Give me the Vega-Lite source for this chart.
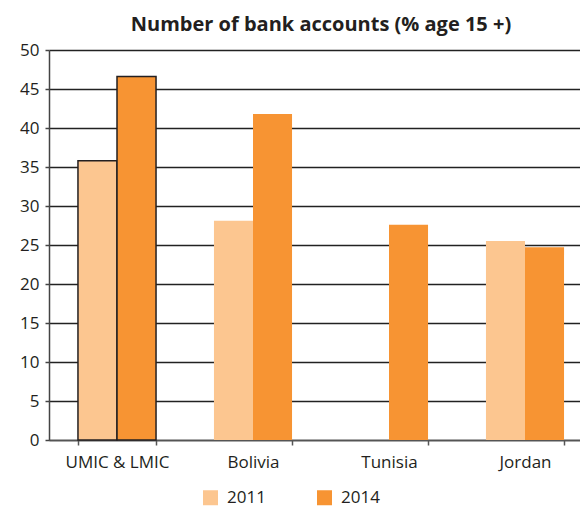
{
  "$schema": "https://vega.github.io/schema/vega-lite/v6.json",
  "autosize": {"type": "none"},
  "width": 544,
  "height": 390,
  "padding": {"left": 49, "top": 50, "right": 0, "bottom": 68},
  "background": "white",
  "title": {
    "text": "Number of bank accounts (% age 15 +)",
    "font": "Open Sans",
    "fontSize": 20,
    "fontWeight": "bold",
    "color": "#231f20",
    "offset": 6,
    "anchor": "middle"
  },
  "data": {
    "values": [
      {"country": "UMIC & LMIC", "year": "2011", "value": 35.8},
      {"country": "UMIC & LMIC", "year": "2014", "value": 46.6},
      {"country": "Bolivia", "year": "2011", "value": 28.1},
      {"country": "Bolivia", "year": "2014", "value": 41.8},
      {"country": "Tunisia", "year": "2014", "value": 27.6},
      {"country": "Jordan", "year": "2011", "value": 25.5},
      {"country": "Jordan", "year": "2014", "value": 24.7}
    ]
  },
  "mark": {"type": "bar", "stroke": "#231f20"},
  "encoding": {
    "x": {
      "field": "country",
      "type": "nominal",
      "sort": ["UMIC & LMIC", "Bolivia", "Tunisia", "Jordan"],
      "scale": {"paddingInner": 0.426, "paddingOuter": 0.213},
      "axis": {
        "title": null,
        "labelAngle": 0,
        "labelFont": "Open Sans",
        "labelFontSize": 17,
        "labelColor": "#231f20",
        "labelPadding": 9,
        "domainColor": "#555555",
        "domainWidth": 1.5,
        "tickColor": "#555555",
        "tickWidth": 1.5,
        "tickSize": 5,
        "tickBand": "extent",
        "grid": false
      }
    },
    "xOffset": {"field": "year", "type": "nominal", "scale": {"paddingInner": 0, "paddingOuter": 0}},
    "y": {
      "field": "value",
      "type": "quantitative",
      "scale": {"domain": [0, 50]},
      "axis": {
        "title": null,
        "values": [0, 5, 10, 15, 20, 25, 30, 35, 40, 45, 50],
        "labelFont": "Open Sans",
        "labelFontSize": 17,
        "labelColor": "#231f20",
        "labelPadding": 6,
        "domainColor": "#444444",
        "domainWidth": 1.5,
        "tickColor": "#444444",
        "tickWidth": 1.5,
        "tickSize": 4,
        "grid": true,
        "gridColor": "#222222",
        "gridWidth": 1.5,
        "gridOpacity": 1
      }
    },
    "color": {
      "field": "year",
      "type": "nominal",
      "scale": {"domain": ["2011", "2014"], "range": ["#fcc690", "#f79433"]},
      "legend": {
        "title": null,
        "orient": "none",
        "direction": "horizontal",
        "legendX": 153,
        "legendY": 439,
        "symbolType": "square",
        "symbolSize": 225,
        "symbolStrokeWidth": 0,
        "labelFont": "Open Sans",
        "labelFontSize": 17,
        "labelColor": "#231f20",
        "labelOffset": 8,
        "columnPadding": 50
      }
    },
    "strokeWidth": {
      "condition": {"test": "datum.country === 'UMIC & LMIC'", "value": 1.5},
      "value": 0
    }
  },
  "config": {"view": {"stroke": null}}
}
